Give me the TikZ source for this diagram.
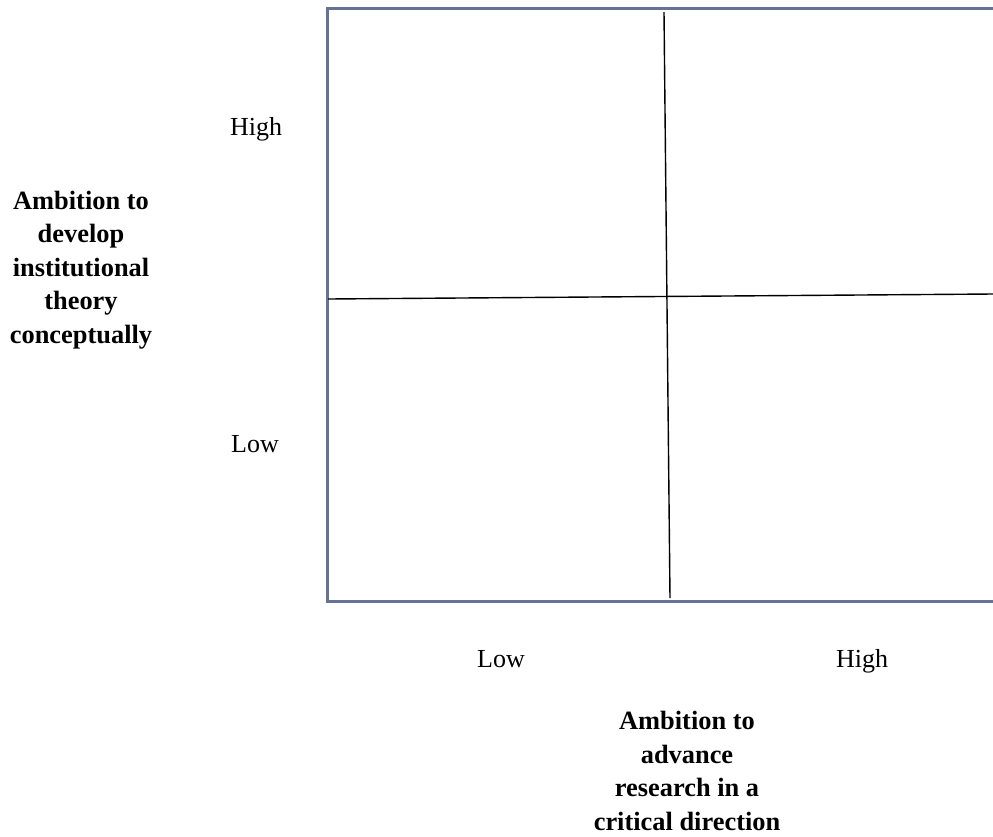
\documentclass[tikz,border=0pt]{standalone}
\usepackage{fontspec}
\setmainfont{Liberation Serif}
\definecolor{boxgray}{RGB}{101,116,150}
\tikzset{
	axislabel/.style={font=\fontsize{26.4}{33.5}\selectfont\bfseries, align=center},
	ticklabel/.style={font=\fontsize{26}{34}\selectfont, anchor=base}
}

\begin{document}
\begin{tikzpicture}[x=1pt, y=-1pt]
				\useasboundingbox (0,0) rectangle (993,836);
				
				\draw[boxgray, line width=3pt] (993,8) -- (327,8) -- (327,601) -- (993,601);
				
				\draw[line width=1.4pt] (664,12) -- (670,598);
				\draw[line width=1.4pt] (328,299) -- (993,294);
				
				\draw (256,135) node[ticklabel] (yhigh) {High};
				\draw (255,452) node[ticklabel] (ylow) {Low};
				\draw (501,667) node[ticklabel] (xlow) {Low};
				\draw (862,667) node[ticklabel] (xhigh) {High};
				
				\draw (81,270) node[axislabel] (ylabel) {Ambition to\\develop\\institutional\\theory\\conceptually};
				\draw (687,771) node[axislabel] (xlabel) {Ambition to\\advance\\research in a\\critical direction};
				\end{tikzpicture}
\end{document}
